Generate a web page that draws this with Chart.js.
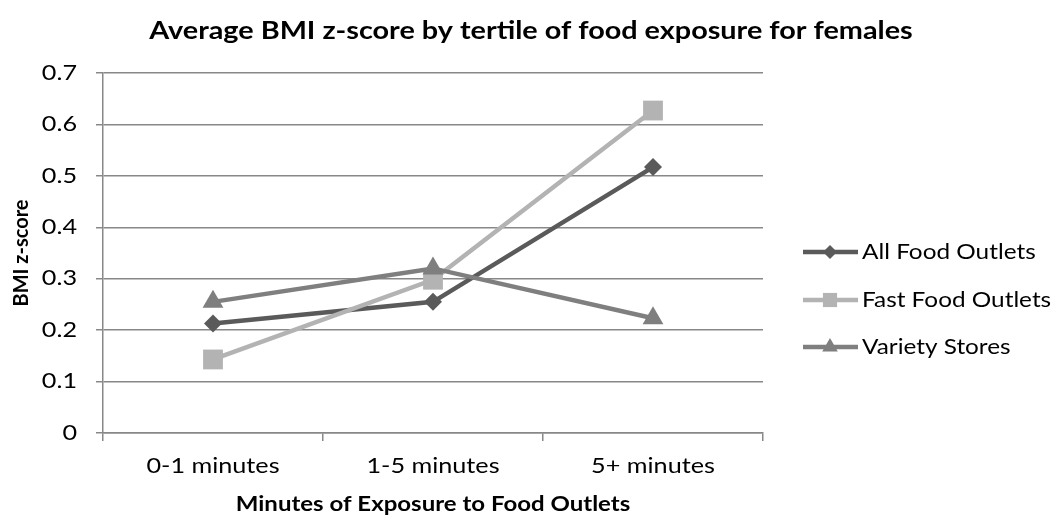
<!DOCTYPE html>
<html>
<head>
<meta charset="utf-8">
<script src="https://cdn.jsdelivr.net/npm/chart.js@4/dist/chart.umd.min.js"></script>
<style>
  html, body { margin: 0; padding: 0; background: #ffffff; }
  #wrap { width: 1059px; height: 523px; }
</style>
</head>
<body>
<div id="wrap"><canvas id="chart" width="1059" height="523"></canvas></div>
<script>
// Exposure tertiles on the x axis
const categories = ['0-1 minutes', '1-5 minutes', '5+ minutes'];

// Average BMI z-score per tertile
const allFoodOutlets = [0.213, 0.255, 0.517];
const fastFoodOutlets = [0.143, 0.298, 0.627];
const varietyStores = [0.255, 0.320, 0.223];

const seriesNames = ['All Food Outlets', 'Fast Food Outlets', 'Variety Stores'];
const yTickValues = [0, 0.1, 0.2, 0.3, 0.4, 0.5, 0.6, 0.7];
const chartTitle = 'Average BMI z-score by tertile of food exposure for females';

const FONT = 'Lato, "Open Sans", sans-serif';
const GRID = '#888888';
const TEXT_STRETCH = 1.2;

const styles = [
  { color: '#5a5a5a', pointStyle: 'rectRot', radius: 9, legendRadius: 7, order: 2 },
  { color: '#b3b3b3', pointStyle: 'rect', radius: 14, legendRadius: 10, order: 1 },
  { color: '#7f7f7f', pointStyle: 'triangle', radius: 12, legendRadius: 9, order: 0 }
];

const seriesValues = [allFoodOutlets, fastFoodOutlets, varietyStores];

const canvas = document.getElementById('chart');
const context = canvas.getContext('2d');

// Horizontal labels are drawn a little wider than the font's own proportions;
// rotated text (the y axis title) is left as it is.
const plainFillText = context.fillText.bind(context);
context.fillText = function (text, x, y, maxWidth) {
  const m = this.getTransform();
  if (Math.abs(m.b) > 1e-6 || Math.abs(m.c) > 1e-6) {
    plainFillText(text, x, y);
    return;
  }
  this.save();
  this.translate(x, y);
  this.scale(TEXT_STRETCH, 1);
  plainFillText(text, 0, 0);
  this.restore();
};

const datasets = seriesValues.map((vals, i) => ({
  label: seriesNames[i],
  data: vals,
  borderColor: styles[i].color,
  backgroundColor: styles[i].color,
  pointBackgroundColor: styles[i].color,
  pointBorderColor: styles[i].color,
  pointBorderWidth: 0,
  pointStyle: styles[i].pointStyle,
  pointRadius: styles[i].radius,
  pointHoverRadius: styles[i].radius,
  borderWidth: 4.5,
  tension: 0,
  fill: false,
  order: styles[i].order
}));

// Title across the top and the legend on the right
const decorations = {
  id: 'decorations',
  afterDraw(chart) {
    const ctx = chart.ctx;
    ctx.save();
    ctx.fillStyle = '#000000';
    ctx.font = 'bold 24px ' + FONT;
    ctx.textAlign = 'center';
    ctx.textBaseline = 'middle';
    ctx.fillText(chartTitle, 531, 31);

    const rows = [252, 300, 347];
    chart.data.datasets.forEach((ds, i) => {
      const y = rows[i];
      ctx.strokeStyle = ds.borderColor;
      ctx.lineWidth = 4.5;
      ctx.beginPath();
      ctx.moveTo(803, y);
      ctx.lineTo(858, y);
      ctx.stroke();
      ctx.fillStyle = ds.borderColor;
      Chart.helpers.drawPoint(ctx, {
        pointStyle: ds.pointStyle,
        radius: styles[i].legendRadius,
        borderWidth: 0,
        rotation: 0
      }, 830, y);
      ctx.fillStyle = '#000000';
      ctx.font = '20.3px ' + FONT;
      ctx.textAlign = 'left';
      ctx.textBaseline = 'middle';
      ctx.fillText(ds.label, 862, y);
    });
    ctx.restore();
  }
};

new Chart(context, {
  type: 'line',
  data: { labels: categories, datasets },
  plugins: [decorations],
  options: {
    responsive: false,
    animation: false,
    devicePixelRatio: 1,
    layout: { padding: { left: 0, right: 296, top: 73, bottom: 0 } },
    plugins: {
      legend: { display: false },
      tooltip: { enabled: false },
      title: { display: false }
    },
    scales: {
      x: {
        type: 'category',
        offset: true,
        afterFit(scale) { scale.height = 90; },
        grid: {
          offset: true,
          drawOnChartArea: false,
          drawTicks: true,
          tickLength: 8,
          color: GRID,
          lineWidth: 1.5
        },
        border: { display: true, color: GRID, width: 1.5 },
        ticks: {
          color: '#000000',
          font: { family: FONT, size: 21 },
          padding: 13,
          maxRotation: 0,
          autoSkip: false
        },
        title: {
          display: true,
          text: 'Minutes of Exposure to Food Outlets',
          color: '#000000',
          font: { family: FONT, size: 20, weight: 'bold', lineHeight: 1.2 },
          padding: { top: 0, bottom: 6 }
        }
      },
      y: {
        min: 0,
        max: 0.7,
        afterFit(scale) { scale.width = 103; },
        afterBuildTicks(scale) { scale.ticks = yTickValues.map(v => ({ value: v })); },
        grid: {
          color: GRID,
          lineWidth: 1.5,
          drawTicks: true,
          tickLength: 7
        },
        border: { display: true, color: GRID, width: 1.5 },
        ticks: {
          color: '#000000',
          font: { family: FONT, size: 21 },
          padding: 19,
          callback: v => String(Math.round(v * 10) / 10)
        },
        title: {
          display: true,
          text: 'BMI z-score',
          color: '#000000',
          font: { family: FONT, size: 20, weight: 'bold', lineHeight: 1.2 },
          padding: { top: 10, bottom: 0 }
        }
      }
    }
  }
});
</script>
</body>
</html>
